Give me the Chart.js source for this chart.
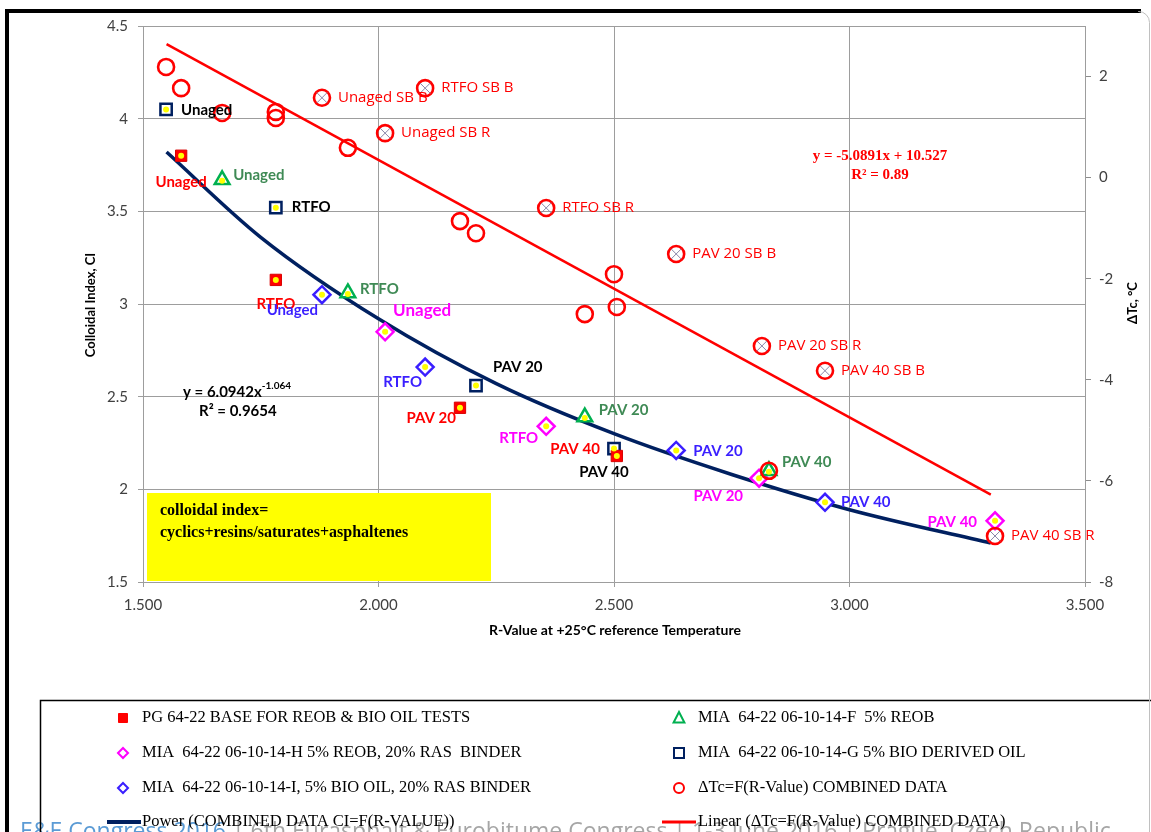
<!DOCTYPE html>
<html>
<head>
<meta charset="utf-8">
<title>Colloidal Index x R-Value</title>
<script src="https://cdn.jsdelivr.net/npm/chart.js@4.4.1/dist/chart.umd.min.js"></script>
<style>
  html, body { margin: 0; padding: 0; background: #fff; }
  #wrap { position: relative; width: 1151px; height: 832px; overflow: hidden; }
</style>
</head>
<body>
<div id="wrap"><canvas id="ciChart"></canvas></div>
<script>
// Ticks dos eixos
const xTicks = [1.5, 2.0, 2.5, 3.0, 3.5];
const ciTicks = [1.5, 2.0, 2.5, 3.0, 3.5, 4.0, 4.5];
const dtcTicks = [-8, -6, -4, -2, 0, 2];

// Nomes das series (legenda)
const seriesNames = [
    'PG 64-22 BASE FOR REOB & BIO OIL TESTS',
    'MIA  64-22 06-10-14-F  5% REOB',
    'MIA  64-22 06-10-14-H 5% REOB, 20% RAS  BINDER',
    'MIA  64-22 06-10-14-G 5% BIO DERIVED OIL',
    'MIA  64-22 06-10-14-I, 5% BIO OIL, 20% RAS BINDER',
    '\u0394Tc=F(R-Value) COMBINED DATA',
    'Power (COMBINED DATA CI=F(R-VALUE))',
    'Linear (\u0394Tc=F(R-Value) COMBINED DATA)'
];

const agingLabels = ['Unaged', 'RTFO', 'PAV 20', 'PAV 40'];

// PG 64-22 base
const pgR = [1.581, 1.782, 2.173, 2.506];
const pgCI = [3.80, 3.13, 2.44, 2.18];

// MIA F 5% REOB
const miaFR = [1.668, 1.935, 2.438, 2.829];
const miaFCI = [3.67, 3.06, 2.39, 2.10];

// MIA H 5% REOB + 20% RAS
const miaHR = [2.014, 2.356, 2.808, 3.309];
const miaHCI = [2.85, 2.34, 2.06, 1.83];

// MIA G 5% bio oil
const miaGR = [1.549, 1.782, 2.207, 2.500];
const miaGCI = [4.05, 3.52, 2.56, 2.22];

// MIA I 5% bio oil + 20% RAS
const miaIR = [1.880, 2.099, 2.632, 2.948];
const miaICI = [3.05, 2.66, 2.21, 1.93];

// Delta Tc (eixo direito)
const dtcR = [1.549, 1.581, 1.668, 1.782, 1.782, 1.935, 2.173, 2.207, 2.438, 2.500, 2.506, 2.829,
              1.880, 2.014, 2.099, 2.356, 2.632, 2.814, 2.948, 3.309];
const dtcValues = [2.19, 1.77, 1.28, 1.30, 1.18, 0.59, -0.86, -1.10, -2.70, -1.91, -2.56, -5.80,
                   1.58, 0.88, 1.77, -0.60, -1.51, -3.33, -3.82, -7.09];
const dtcLabels = ['', '', '', '', '', '', '', '', '', '', '', '',
                   'Unaged SB B', 'Unaged SB R', 'RTFO SB B', 'RTFO SB R',
                   'PAV 20 SB B', 'PAV 20 SB R', 'PAV 40 SB B', 'PAV 40 SB R'];

// Linhas de tendencia
const powerFitR = [1.55, 1.75, 2.00, 2.25, 2.50, 2.75, 3.00, 3.30];
const powerFitCI = [3.82, 3.36, 2.92, 2.57, 2.30, 2.08, 1.89, 1.71];
const linearFitR = [1.55, 3.30];
const linearFitDTc = [2.64, -6.27];

// Posicao dos rotulos (dx, dy, alinhamento) em pixels
const labelPlace = {
    pg: [[0, 26, 'center'], [0, 24, 'center'], [-4, 10, 'right'], [-17, -7, 'right']],
    miaF: [[11, -5, 'left'], [12, -4, 'left'], [14, -7, 'left'], [13, -9, 'left']],
    miaH: [[8, -21, 'left'], [-8, 12, 'right'], [-16, 18, 'right'], [-18, 1, 'right']],
    miaG: [[15, 1, 'left'], [16, 0, 'left'], [17, -18, 'left'], [-10, 24, 'center']],
    miaI: [[-4, 15, 'right'], [-3, 15, 'right'], [17, 1, 'left'], [16, 0, 'left']],
    dtc: [[16, 0, 'left']]
};

const RED = '#ff0000';
const NAVY = '#002060';
const GREEN = '#00b050';
const MAGENTA = '#ff00ff';
const VIOLET = '#3a1fff';

document.addEventListener('DOMContentLoaded', function() {
    const fontsToLoad = ['15px Lato', 'bold 15px Lato', '15px "Open Sans"', '16px "Liberation Serif"', 'bold 16px "Liberation Serif"'];
    Promise.all(fontsToLoad.map(f => document.fonts.load(f)))
        .catch(() => {})
        .then(initCIChart);
});

function toPoints(xs, ys) {
    return xs.map((x, i) => ({ x: x, y: ys[i] }));
}

// Desenha um marcador simples (usado na legenda)
function drawMarker(ctx, style, x, y, r, stroke, fill, lw) {
    ctx.save();
    ctx.beginPath();
    if (style === 'rect') {
        ctx.rect(x - r, y - r, 2 * r, 2 * r);
    } else if (style === 'rectRot') {
        ctx.moveTo(x - r, y); ctx.lineTo(x, y - r); ctx.lineTo(x + r, y); ctx.lineTo(x, y + r); ctx.closePath();
    } else if (style === 'triangle') {
        ctx.moveTo(x, y - r); ctx.lineTo(x + r * 0.9, y + r * 0.75); ctx.lineTo(x - r * 0.9, y + r * 0.75); ctx.closePath();
    } else {
        ctx.arc(x, y, r, 0, Math.PI * 2);
    }
    if (fill) { ctx.fillStyle = fill; ctx.fill(); }
    ctx.lineWidth = lw;
    ctx.strokeStyle = stroke;
    ctx.stroke();
    ctx.restore();
}

// Fundo e rodape do slide
function drawBackground(ctx, chart) {
    ctx.save();
    ctx.fillStyle = '#fff';
    ctx.fillRect(0, 0, chart.width, chart.height);
    ctx.font = '23px "Open Sans"';
    ctx.textBaseline = 'alphabetic';
    ctx.fillStyle = '#5b9bd5';
    const first = 'E&E Congress 2016';
    ctx.fillText(first, 20, 839);
    const w = ctx.measureText(first).width;
    ctx.fillStyle = '#a6a6a6';
    ctx.fillText(' | 6th Eurasphalt & Eurobitume Congress | 1-3 June 2016 | Prague, Czech Republic', 20 + w, 839);
    ctx.restore();
}

// Caixa amarela com a definicao do indice coloidal
function drawNoteBox(ctx) {
    ctx.save();
    ctx.fillStyle = '#ffff00';
    ctx.fillRect(147, 493, 344, 88);
    ctx.fillStyle = '#000';
    ctx.font = 'bold 16px "Liberation Serif"';
    ctx.textBaseline = 'middle';
    ctx.fillText('colloidal index=', 160, 511);
    ctx.fillText('cyclics+resins/saturates+asphaltenes', 160, 533);
    ctx.restore();
}

// Pontos amarelos dentro dos marcadores e X dentro dos circulos
function drawMarkerDetails(chart) {
    const ctx = chart.ctx;
    chart.data.datasets.forEach((ds, i) => {
        const meta = chart.getDatasetMeta(i);
        if (ds.yellowDot) {
            ctx.save();
            ctx.fillStyle = '#ffff00';
            meta.data.forEach(pt => {
                ctx.beginPath();
                ctx.arc(pt.x, pt.y + (ds.pointStyle === 'triangle' ? 1 : 0), 3, 0, Math.PI * 2);
                ctx.fill();
            });
            ctx.restore();
        }
        if (ds.crossMarks) {
            ctx.save();
            ctx.strokeStyle = '#8a86a8';
            ctx.lineWidth = 1;
            meta.data.forEach((pt, j) => {
                if (!ds.crossMarks[j]) return;
                const a = 5.2;
                ctx.beginPath();
                ctx.moveTo(pt.x - a, pt.y - a); ctx.lineTo(pt.x + a, pt.y + a);
                ctx.moveTo(pt.x + a, pt.y - a); ctx.lineTo(pt.x - a, pt.y + a);
                ctx.stroke();
            });
            ctx.restore();
        }
    });
}

// Rotulos de cada ponto
function drawPointLabels(chart) {
    const ctx = chart.ctx;
    chart.data.datasets.forEach((ds, i) => {
        if (!ds.pointLabels) return;
        const meta = chart.getDatasetMeta(i);
        ctx.save();
        ctx.fillStyle = ds.labelColor;
        ctx.textBaseline = 'middle';
        meta.data.forEach((pt, j) => {
            const text = ds.pointLabels[j];
            if (!text) return;
            const place = ds.labelPlace[j] || ds.labelPlace[0];
            ctx.font = (ds.labelFonts && ds.labelFonts[j]) || ds.labelFont;
            ctx.textAlign = place[2];
            ctx.fillText(text, pt.x + place[0], pt.y + place[1]);
        });
        ctx.restore();
    });
}

// Equacoes das linhas de tendencia
function drawEquations(ctx) {
    ctx.save();
    ctx.textBaseline = 'middle';
    ctx.textAlign = 'center';
    ctx.fillStyle = RED;
    ctx.font = 'bold 15px "Liberation Serif"';
    ctx.fillText('y = -5.0891x + 10.527', 880, 156);
    ctx.fillText('R\u00b2 = 0.89', 880, 175);

    ctx.fillStyle = '#000';
    ctx.textAlign = 'left';
    ctx.font = 'bold 15px Lato';
    const base = 'y = 6.0942x';
    ctx.fillText(base, 183, 392);
    const w = ctx.measureText(base).width;
    ctx.font = 'bold 10px Lato';
    ctx.fillText('-1.064', 183 + w, 386);
    ctx.font = 'bold 15px Lato';
    ctx.fillText('R\u00b2 = 0.9654', 199, 411);
    ctx.restore();
}

// Titulos dos eixos
function drawAxisTitles(ctx) {
    ctx.save();
    ctx.fillStyle = '#000';
    ctx.textAlign = 'center';
    ctx.textBaseline = 'middle';
    ctx.font = 'bold 14px Lato';
    ctx.fillText('R-Value at +25\u00b0C reference Temperature', 615, 630);

    ctx.font = 'bold 13px Lato';
    ctx.save();
    ctx.translate(91, 305);
    ctx.rotate(-Math.PI / 2);
    ctx.fillText('Colloidal Index, CI', 0, 0);
    ctx.restore();

    ctx.save();
    ctx.translate(1133, 303);
    ctx.rotate(-Math.PI / 2);
    ctx.fillText('\u0394Tc, \u00b0C', 0, 0);
    ctx.restore();
    ctx.restore();
}

// Legenda desenhada em duas colunas
function drawLegend(ctx) {
    ctx.save();
    ctx.strokeStyle = '#000';
    ctx.lineWidth = 1.5;
    ctx.strokeRect(40.5, 700.5, 1200, 200);

    const rows = [718, 753, 788, 822];
    ctx.font = '16.5px "Liberation Serif"';
    ctx.fillStyle = '#000';
    ctx.textBaseline = 'middle';

    // coluna 1
    drawMarker(ctx, 'rect', 123, rows[0], 4.5, RED, RED, 1);
    ctx.fillText(seriesNames[0], 142, rows[0]);
    drawMarker(ctx, 'rectRot', 123, rows[1], 5, MAGENTA, null, 2);
    ctx.fillText(seriesNames[2], 142, rows[1]);
    drawMarker(ctx, 'rectRot', 123, rows[2], 5, VIOLET, null, 2);
    ctx.fillText(seriesNames[4], 142, rows[2]);
    ctx.fillStyle = NAVY;
    ctx.fillRect(107, rows[3] - 2, 34, 4);
    ctx.fillStyle = '#000';
    ctx.fillText(seriesNames[6], 142, rows[3]);

    // coluna 2
    drawMarker(ctx, 'triangle', 679, rows[0], 6, GREEN, null, 2);
    ctx.fillText(seriesNames[1], 698, rows[0]);
    drawMarker(ctx, 'rect', 679, rows[1], 5, NAVY, null, 2);
    ctx.fillText(seriesNames[3], 698, rows[1]);
    drawMarker(ctx, 'circle', 679, rows[2], 5, RED, null, 2);
    ctx.fillText(seriesNames[5], 698, rows[2]);
    ctx.fillStyle = RED;
    ctx.fillRect(662, rows[3] - 1.5, 34, 3);
    ctx.fillStyle = '#000';
    ctx.fillText(seriesNames[7], 698, rows[3]);
    ctx.restore();
}

// Moldura preta do slide
function drawFrame(ctx) {
    ctx.save();
    ctx.fillStyle = '#000';
    ctx.fillRect(5, 9, 4, 830);
    ctx.fillRect(5, 9, 1136, 4);
    ctx.strokeStyle = '#c0c0c0';
    ctx.lineWidth = 1;
    ctx.beginPath();
    ctx.moveTo(1138, 11.5);
    ctx.arcTo(1149.5, 11.5, 1149.5, 24, 11);
    ctx.lineTo(1149.5, 832);
    ctx.stroke();
    ctx.restore();
}

const decorPlugin = {
    id: 'decor',
    beforeDraw(chart) { drawBackground(chart.ctx, chart); },
    beforeDatasetsDraw(chart) { drawNoteBox(chart.ctx); },
    afterDatasetsDraw(chart) {
        drawMarkerDetails(chart);
        drawPointLabels(chart);
        drawEquations(chart.ctx);
    },
    afterDraw(chart) {
        drawAxisTitles(chart.ctx);
        drawLegend(chart.ctx);
        drawFrame(chart.ctx);
    }
};

function initCIChart() {
    const ctx = document.getElementById('ciChart');
    const labelBold = 'bold 15px Lato';
    const gridColor = '#9d9d9d';
    const tickFont = { family: 'Lato', size: 15 };

    const datasets = [
        {
            label: seriesNames[5],
            data: toPoints(dtcR, dtcValues),
            yAxisID: 'y2',
            pointStyle: 'circle', pointRadius: 8, pointBorderWidth: 2.6,
            pointBorderColor: RED, pointBackgroundColor: 'rgba(0,0,0,0)',
            crossMarks: dtcLabels.map(t => t !== ''),
            pointLabels: dtcLabels, labelPlace: labelPlace.dtc,
            labelColor: RED, labelFont: '15px "Open Sans"'
        },
        {
            label: seriesNames[0],
            data: toPoints(pgR, pgCI),
            pointStyle: 'rect', pointRadius: 8, pointBorderWidth: 1,
            pointBorderColor: '#d80000', pointBackgroundColor: RED,
            yellowDot: true,
            pointLabels: agingLabels, labelPlace: labelPlace.pg,
            labelColor: RED, labelFont: labelBold
        },
        {
            label: seriesNames[1],
            data: toPoints(miaFR, miaFCI),
            pointStyle: 'triangle', pointRadius: 8.5, pointBorderWidth: 2.5,
            pointBorderColor: GREEN, pointBackgroundColor: '#fff',
            yellowDot: true,
            pointLabels: agingLabels, labelPlace: labelPlace.miaF,
            labelColor: '#3f8a55', labelFont: labelBold
        },
        {
            label: seriesNames[2],
            data: toPoints(miaHR, miaHCI),
            pointStyle: 'rectRot', pointRadius: 8.5, pointBorderWidth: 2.5,
            pointBorderColor: MAGENTA, pointBackgroundColor: '#fff',
            yellowDot: true,
            pointLabels: agingLabels, labelPlace: labelPlace.miaH,
            labelColor: MAGENTA, labelFont: labelBold,
            labelFonts: ['bold 17px Lato']
        },
        {
            label: seriesNames[3],
            data: toPoints(miaGR, miaGCI),
            pointStyle: 'rect', pointRadius: 8, pointBorderWidth: 2.5,
            pointBorderColor: NAVY, pointBackgroundColor: '#fff',
            yellowDot: true,
            pointLabels: agingLabels, labelPlace: labelPlace.miaG,
            labelColor: '#000', labelFont: labelBold
        },
        {
            label: seriesNames[4],
            data: toPoints(miaIR, miaICI),
            pointStyle: 'rectRot', pointRadius: 8.5, pointBorderWidth: 2.5,
            pointBorderColor: VIOLET, pointBackgroundColor: '#fff',
            yellowDot: true,
            pointLabels: agingLabels, labelPlace: labelPlace.miaI,
            labelColor: VIOLET, labelFont: labelBold
        },
        {
            label: seriesNames[6],
            data: toPoints(powerFitR, powerFitCI),
            showLine: true, pointRadius: 0,
            borderColor: NAVY, borderWidth: 3.5,
            tension: 0.4, cubicInterpolationMode: 'monotone'
        },
        {
            label: seriesNames[7],
            data: toPoints(linearFitR, linearFitDTc),
            yAxisID: 'y2',
            showLine: true, pointRadius: 0,
            borderColor: RED, borderWidth: 2.5
        }
    ];

    const config = {
        type: 'scatter',
        data: { datasets: datasets },
        plugins: [decorPlugin],
        options: {
            responsive: true,
            maintainAspectRatio: false,
            devicePixelRatio: 1,
            animation: false,
            events: [],
            layout: { padding: { top: 26, left: 0, right: 0, bottom: 0 } },
            plugins: {
                legend: { display: false },
                tooltip: { enabled: false }
            },
            scales: {
                x: {
                    type: 'linear', min: 1.5, max: 3.5,
                    afterBuildTicks: s => { s.ticks = xTicks.map(v => ({ value: v })); },
                    afterFit: s => { s.height = 250; },
                    ticks: {
                        callback: v => Number(v).toFixed(3),
                        font: tickFont, color: '#404040', padding: 9,
                        maxRotation: 0, autoSkip: false
                    },
                    grid: { color: gridColor, tickLength: 5 },
                    border: { color: gridColor }
                },
                y: {
                    type: 'linear', position: 'left', min: 1.5, max: 4.5,
                    afterBuildTicks: s => { s.ticks = ciTicks.map(v => ({ value: v })); },
                    afterFit: s => { s.width = 143; },
                    ticks: {
                        callback: v => String(v),
                        font: tickFont, color: '#404040', padding: 10, autoSkip: false
                    },
                    grid: { color: gridColor, tickLength: 5 },
                    border: { color: gridColor }
                },
                y2: {
                    type: 'linear', position: 'right', min: -8, max: 3,
                    afterBuildTicks: s => { s.ticks = dtcTicks.map(v => ({ value: v })); },
                    afterFit: s => { s.width = 66; },
                    ticks: {
                        callback: v => String(v),
                        font: tickFont, color: '#404040', padding: 8, autoSkip: false
                    },
                    grid: { drawOnChartArea: false, color: '#8c8c8c', tickLength: 6 },
                    border: { color: gridColor }
                }
            }
        }
    };

    const ciChart = new Chart(ctx, config);
}
</script>
</body>
</html>
